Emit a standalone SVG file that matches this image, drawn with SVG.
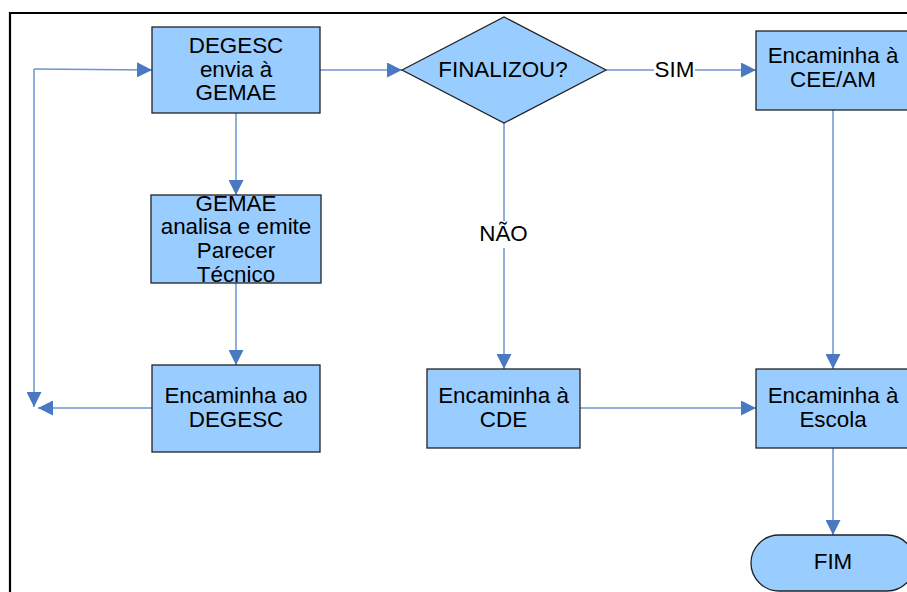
<svg xmlns="http://www.w3.org/2000/svg" width="907" height="592" viewBox="0 0 907 592">
<style>
.box{fill:#99ccff;stroke:#222;stroke-width:1.3}
.t{font-family:"Liberation Sans",Arial,sans-serif;font-size:22.4px;fill:#000;text-anchor:middle}
.c{fill:none;stroke:#6d95d2;stroke-width:1.5}
</style>
<defs>
<marker id="ah2" viewBox="0 0 10 10" refX="10" refY="5" markerWidth="15" markerHeight="15" markerUnits="userSpaceOnUse" orient="auto">
<path d="M0,0 L10,5 L0,10 z" fill="#4a79c2"/>
</marker>
</defs>
<rect width="907" height="592" fill="#fff"/>
<path d="M10,592 L10,13 L907,13" fill="none" stroke="#000" stroke-width="2.2"/>
<g id="connectors">
<path class="c" d="M34,69 L152,70" marker-end="url(#ah2)"/>
<path class="c" d="M34,69 L34,407" marker-end="url(#ah2)"/>
<path class="c" d="M152,408 L38,408" marker-end="url(#ah2)"/>
<path class="c" d="M236,113 L236,195" marker-end="url(#ah2)"/>
<path class="c" d="M236,283 L236,365" marker-end="url(#ah2)"/>
<path class="c" d="M320,70 L402,70" marker-end="url(#ah2)"/>
<path class="c" d="M606,70 L756,70" marker-end="url(#ah2)"/>
<path class="c" d="M504,123 L504,369" marker-end="url(#ah2)"/>
<path class="c" d="M833,110 L833,369" marker-end="url(#ah2)"/>
<path class="c" d="M580,408 L756,408" marker-end="url(#ah2)"/>
<path class="c" d="M833,448 L833,535" marker-end="url(#ah2)"/>
<rect x="654" y="58" width="41" height="24" fill="#fff"/>
<text class="t" x="674.5" y="76.5">SIM</text>
<rect x="478" y="221" width="52" height="27" fill="#fff"/>
<text class="t" x="503.5" y="241">NÃO</text>
</g>
<g id="degesc-envia">
<rect class="box" x="152" y="27" width="168" height="86"/>
<text class="t" x="236" y="53.3">DEGESC</text>
<text class="t" x="236" y="76.7">envia à</text>
<text class="t" x="236" y="100">GEMAE</text>
</g>
<g id="gemae-analisa">
<rect class="box" x="151" y="195" width="170" height="88"/>
<text class="t" x="236" y="210.5">GEMAE</text>
<text class="t" x="236" y="234.2">analisa e emite</text>
<text class="t" x="236" y="258">Parecer</text>
<text class="t" x="236" y="281.7">Técnico</text>
</g>
<g id="encaminha-degesc">
<rect class="box" x="152" y="365" width="168" height="87"/>
<text class="t" x="236" y="402.7">Encaminha ao</text>
<text class="t" x="236" y="426.7">DEGESC</text>
</g>
<g id="finalizou">
<polygon class="box" points="402,70 504,17 606,70 504,123"/>
<text class="t" x="503" y="76.5">FINALIZOU?</text>
</g>
<g id="encaminha-cee">
<rect class="box" x="756" y="31" width="156" height="79"/>
<text class="t" x="833" y="63.3">Encaminha à</text>
<text class="t" x="833" y="87.3">CEE/AM</text>
</g>
<g id="encaminha-cde">
<rect class="box" x="427" y="369" width="153" height="79"/>
<text class="t" x="503.5" y="402.7">Encaminha à</text>
<text class="t" x="503.5" y="426.7">CDE</text>
</g>
<g id="encaminha-escola">
<rect class="box" x="756" y="369" width="156" height="79"/>
<text class="t" x="833" y="402.7">Encaminha à</text>
<text class="t" x="833" y="426.7">Escola</text>
</g>
<g id="fim">
<rect class="box" x="751" y="535" width="164" height="56" rx="28" ry="28"/>
<text class="t" x="833" y="569.3">FIM</text>
</g>
</svg>
